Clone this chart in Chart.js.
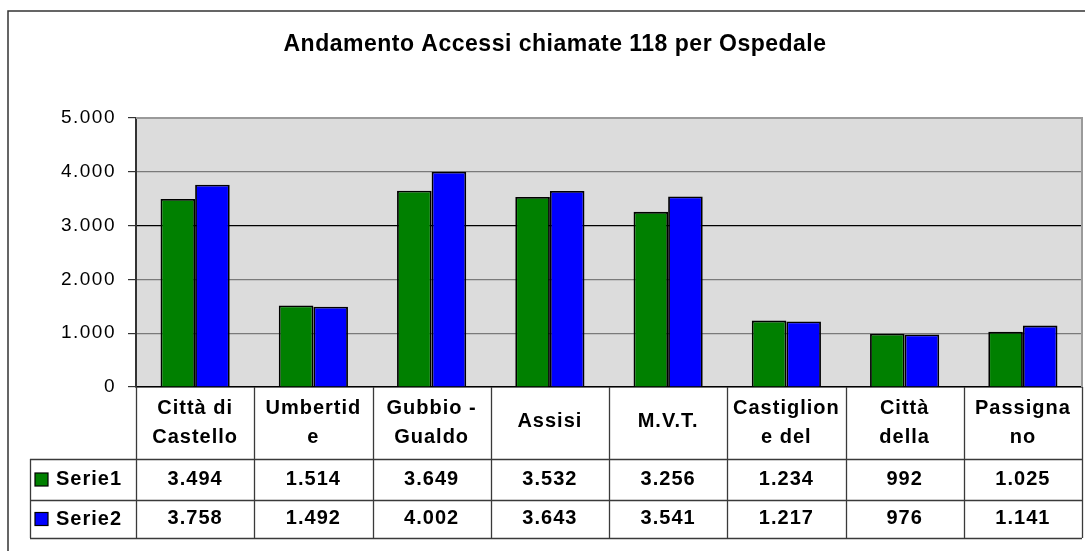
<!DOCTYPE html>
<html>
<head>
<meta charset="utf-8">
<script src="https://cdn.jsdelivr.net/npm/chart.js@4/dist/chart.umd.min.js"></script>
<style>
  html, body { margin: 0; padding: 0; background: #fff; }
  #wrap { width: 1085px; height: 551px; position: relative; }
</style>
</head>
<body>
<div id="wrap"><canvas id="c" width="1085" height="551"></canvas></div>
<script>
const chartTitle = 'Andamento Accessi chiamate 118 per Ospedale';
const categories = [
  ['Città di', 'Castello'],
  ['Umbertid', 'e'],
  ['Gubbio -', 'Gualdo'],
  ['Assisi'],
  ['M.V.T.'],
  ['Castiglion', 'e del'],
  ['Città', 'della'],
  ['Passigna', 'no']
];
const seriesNames = ['Serie1', 'Serie2'];
const serie1 = [3494, 1514, 3649, 3532, 3256, 1234, 992, 1025];
const serie2 = [3758, 1492, 4002, 3643, 3541, 1217, 976, 1141];
const yTickValues = [0, 1000, 2000, 3000, 4000, 5000];
const yTickLabels = ['0', '1.000', '2.000', '3.000', '4.000', '5.000'];
const seriesColors = ['#008000', '#0000FF'];

function fmt(n) {
  return String(n).replace(/\B(?=(\d{3})+(?!\d))/g, '.');
}

const FONT = 'Arial, "Liberation Sans", sans-serif';

const decor = {
  id: 'decor',
  beforeDraw(chart) {
    const ctx = chart.ctx;
    const a = chart.chartArea;
    ctx.save();
    ctx.fillStyle = '#DCDCDC';
    ctx.fillRect(a.left, a.top, a.right - a.left, a.bottom - a.top);
    ctx.restore();
    ctx.letterSpacing = '1.5px';
  },
  afterDraw(chart) {
    const ctx = chart.ctx;
    const a = chart.chartArea;
    const xs = chart.scales.x;
    ctx.save();
    ctx.letterSpacing = '0px';

    // outer frame
    ctx.strokeStyle = '#333';
    ctx.lineWidth = 1.5;
    ctx.beginPath();
    ctx.moveTo(8, 560);
    ctx.lineTo(8, 11);
    ctx.lineTo(1090, 11);
    ctx.stroke();

    // plot border top/right
    ctx.strokeStyle = '#9a9a9a';
    ctx.lineWidth = 2;
    ctx.beginPath();
    ctx.moveTo(a.left, a.top);
    ctx.lineTo(a.right, a.top);
    ctx.lineTo(a.right, a.bottom);
    ctx.stroke();

    // title
    ctx.fillStyle = '#000';
    ctx.font = 'bold 23px ' + FONT;
    ctx.textAlign = 'center';
    ctx.textBaseline = 'middle';
    ctx.letterSpacing = '0.5px';
    ctx.fillText(chartTitle, 555, 45);

    // data table
    const n = categories.length;
    const colW = (a.right - a.left) / n;
    const hdrBottom = a.bottom + 72;
    const row1Bottom = hdrBottom + 41;
    const row2Bottom = row1Bottom + 38;
    const tableLeft = 30;

    ctx.strokeStyle = '#3a3a3a';
    ctx.lineWidth = 1.3;
    ctx.beginPath();
    for (let i = 0; i <= n; i++) {
      const x = Math.round(a.left + i * colW) + 0.5;
      ctx.moveTo(x, a.bottom);
      ctx.lineTo(x, row2Bottom);
    }
    [hdrBottom, row1Bottom, row2Bottom].forEach(y => {
      ctx.moveTo(tableLeft, y + 0.5);
      ctx.lineTo(a.right, y + 0.5);
    });
    ctx.moveTo(tableLeft + 0.5, hdrBottom);
    ctx.lineTo(tableLeft + 0.5, row2Bottom);
    ctx.stroke();

    ctx.font = 'bold 20px ' + FONT;
    ctx.letterSpacing = '1px';
    ctx.textAlign = 'center';
    ctx.textBaseline = 'middle';
    ctx.fillStyle = '#000';
    for (let i = 0; i < n; i++) {
      const cx = xs.getPixelForValue(i);
      const lines = categories[i];
      const lh = 29;
      const midY = (a.bottom + hdrBottom) / 2 + (lines.length === 1 ? -2 : 0);
      lines.forEach((t, k) => {
        const y = midY + (k - (lines.length - 1) / 2) * lh;
        ctx.fillText(t, cx, y);
      });
      ctx.fillText(fmt(serie1[i]), cx, (hdrBottom + row1Bottom) / 2);
      ctx.fillText(fmt(serie2[i]), cx, (row1Bottom + row2Bottom) / 2 - 0.5);
    }

    // legend keys + names
    const rowMids = [(hdrBottom + row1Bottom) / 2, (row1Bottom + row2Bottom) / 2];
    ctx.textAlign = 'left';
    for (let s = 0; s < 2; s++) {
      const my = rowMids[s];
      ctx.fillStyle = seriesColors[s];
      ctx.fillRect(35, my - 6.5, 13, 13);
      ctx.strokeStyle = '#000';
      ctx.lineWidth = 1.2;
      ctx.strokeRect(35, my - 6.5, 13, 13);
      ctx.fillStyle = '#000';
      ctx.fillText(seriesNames[s], 56, my);
    }
    ctx.restore();
  }
};

new Chart(document.getElementById('c'), {
  type: 'bar',
  data: {
    labels: categories.map(l => l.join(' ')),
    datasets: [
      { label: seriesNames[0], data: serie1, backgroundColor: seriesColors[0], borderColor: '#000', borderWidth: 1.8 },
      { label: seriesNames[1], data: serie2, backgroundColor: seriesColors[1], borderColor: '#000', borderWidth: 1.8 }
    ]
  },
  options: {
    responsive: false,
    animation: false,
    devicePixelRatio: 1,
    layout: { padding: { top: 118, right: 3, bottom: 164, left: 0 } },
    plugins: {
      legend: { display: false },
      title: { display: false },
      tooltip: { enabled: false }
    },
    datasets: { bar: { categoryPercentage: 0.585, barPercentage: 1.0 } },
    scales: {
      x: {
        ticks: { display: false },
        grid: { display: false },
        border: { display: true, color: '#000', width: 1.5 },
        afterFit(scale) { scale.height = 0; }
      },
      y: {
        min: 0,
        max: 5000,
        afterFit(scale) { scale.width = 136; },
        afterBuildTicks(scale) { scale.ticks = yTickValues.map(v => ({ value: v })); },
        ticks: {
          callback: (v) => yTickLabels[yTickValues.indexOf(v)],
          font: { family: FONT, size: 19 },
          color: '#000',
          padding: 12
        },
        grid: {
          color: (c) => (c.tick && c.tick.value === 3000) ? '#000' : '#7a7a7a',
          lineWidth: 1.2,
          tickLength: 8,
          tickColor: '#333'
        },
        border: { display: true, color: '#333', width: 2 }
      }
    }
  },
  plugins: [decor]
});
</script>
</body>
</html>
